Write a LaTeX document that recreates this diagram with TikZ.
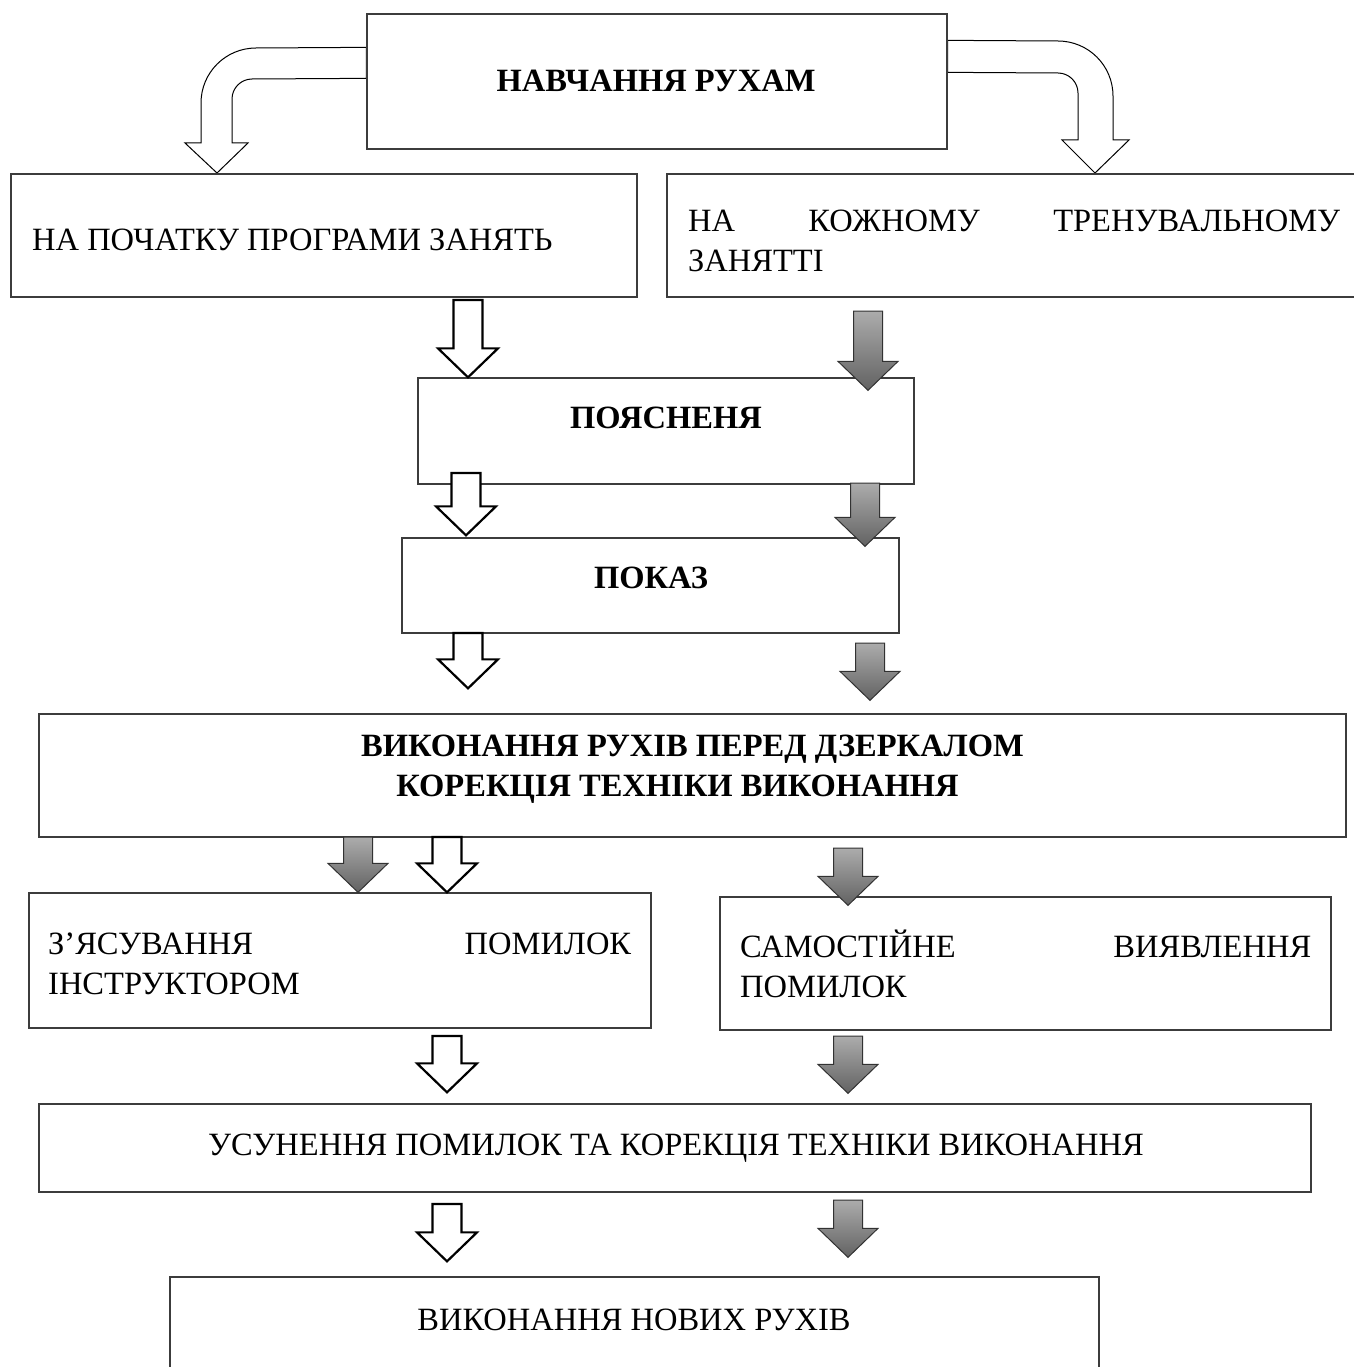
\documentclass[tikz,border=0pt]{standalone}
\usepackage{fontspec}
\setmainfont{Liberation Serif}
\usetikzlibrary{calc}
\definecolor{boxline}{RGB}{60,60,60}
\definecolor{arrtop}{RGB}{172,172,172}
\definecolor{arrbot}{RGB}{98,98,98}
\definecolor{arrline}{RGB}{50,50,50}
\newcommand\flowbox[5]{\node[flowrect, minimum width={(#4-#2)*1pt}, minimum height={(#5-#3)*1pt}] (#1) at ({(#2+#4)/2},{(#3+#5)/2}) {};}
\newcommand\blockarrow[5]{% style, centre x, top y, target node, tip offset
  \coordinate (ba-top) at (#2,#3);
  \coordinate (ba-tip) at ($(#4.north -| ba-top)+(0,#5)$);
  \path[#1] ($(ba-top)+(-14.5,0)$) -- ($(ba-top)+(14.5,0)$) -- ($(ba-tip)+(14.5,-29)$) -- ($(ba-tip)+(30,-29)$) -- (ba-tip) -- ($(ba-tip)+(-30,-29)$) -- ($(ba-tip)+(-14.5,-29)$) -- cycle;
}
\begin{document}
\begin{tikzpicture}[x=1pt,y=-1pt,
  flowrect/.style={draw=boxline, line width=1.3pt, fill=white, inner sep=0pt},
  txt/.style={inner sep=0pt, font=\fontsize{32.5}{40}\selectfont},
  btxt/.style={inner sep=0pt, font=\fontsize{32.5}{40}\selectfont\bfseries},
  whitearr/.style={draw=black, line width=2.2pt, fill=white, line join=miter},
  grayarr/.style={draw=arrline, line width=1pt, top color=arrtop, bottom color=arrbot},
  bentarr/.style={draw=black, line width=1pt, fill=white}]
\fill[white] (0,0) rectangle (1353,1367);
\useasboundingbox (0,0) rectangle (1353,1367);

% top box (defined first so the bent arrows can start from it)
\flowbox{top}{367}{14}{947}{149}
% bent arrows
\draw[bentarr] ($(top.north west)+(0,34)$) -- (256,48) .. controls (225.6,48) and (201,72.6) .. (201,103) -- (201,143) -- (185,143) -- (217,173) -- (248,143) -- (232,143) -- (232,99) .. controls (232,88) and (241,79) .. (252,79) -- ($(top.north west)+(0,65)$) -- cycle;
\draw[bentarr] ($(top.north east)+(0,27)$) -- (1058,41) .. controls (1088.4,41) and (1113,65.6) .. (1113,96) -- (1113,140) -- (1129,140) -- (1095,173) -- (1062,140) -- (1078,140) -- (1078,93) .. controls (1078,82) and (1069,73) .. (1058,73) -- ($(top.north east)+(0,59)$) -- cycle;
\flowbox{top}{367}{14}{947}{149}

\flowbox{b1}{11}{174}{637}{297}
\flowbox{b2}{667}{174}{1357}{297}
\flowbox{b3}{418}{378}{914}{484}
\flowbox{b4}{402}{538}{899}{633}
\flowbox{b5}{39}{714}{1346}{837}
\flowbox{b6}{29}{893}{651}{1028}
\flowbox{b7}{720}{897}{1331}{1030}
\flowbox{b8}{39}{1104}{1311}{1192}
\flowbox{b9}{170}{1277}{1099}{1375}

% texts
\node[btxt] (t0) at (656,81) {НАВЧАННЯ РУХАМ};
\node[txt, anchor=west] (t1) at (32,240) {НА ПОЧАТКУ ПРОГРАМИ ЗАНЯТЬ};
\node[txt, anchor=west, align=left] (t2) at (688,241) {\makebox[652pt][s]{НА КОЖНОМУ ТРЕНУВАЛЬНОМУ}\\ЗАНЯТТІ};
\node[btxt] (t3) at (666,418) {ПОЯСНЕНЯ};
\node[btxt] (t4) at (651,578) {ПОКАЗ};
\node[btxt, align=center] (t5) at (685,769) {\hspace*{15pt}ВИКОНАННЯ РУХІВ ПЕРЕД ДЗЕРКАЛОМ\\КОРЕКЦІЯ ТЕХНІКИ ВИКОНАННЯ\hspace*{15pt}};
\node[txt, anchor=west, align=left] (t6) at (48,964) {\makebox[583pt][s]{З’ЯСУВАННЯ ПОМИЛОК}\\ІНСТРУКТОРОМ};
\node[txt, anchor=west, align=left] (t7) at (740,964) {\makebox[571pt][s]{САМОСТІЙНЕ ВИЯВЛЕННЯ}\\ПОМИЛОК};
\node[txt] (t8) at (676,1148) {УСУНЕННЯ ПОМИЛОК ТА КОРЕКЦІЯ ТЕХНІКИ ВИКОНАННЯ};
\node[txt] (t9) at (634,1320) {ВИКОНАННЯ НОВИХ РУХІВ};

% block arrows
\blockarrow{whitearr}{468}{300}{b3}{0}
\blockarrow{grayarr}{868}{311}{b3}{13}
\blockarrow{whitearr}{466}{473}{b4}{-2}
\blockarrow{grayarr}{865}{483}{b4}{9}
\blockarrow{whitearr}{468}{633}{b5}{-25}
\blockarrow{grayarr}{870}{643}{b5}{-13}
\blockarrow{grayarr}{358}{837}{b6}{0}
\blockarrow{whitearr}{447}{837}{b6}{0}
\blockarrow{grayarr}{848}{848}{b7}{9}
\blockarrow{whitearr}{447}{1036}{b8}{-11}
\blockarrow{grayarr}{848}{1036}{b8}{-10}
\blockarrow{whitearr}{447}{1204}{b9}{-15}
\blockarrow{grayarr}{848}{1200}{b9}{-19}
\end{tikzpicture}
\end{document}
